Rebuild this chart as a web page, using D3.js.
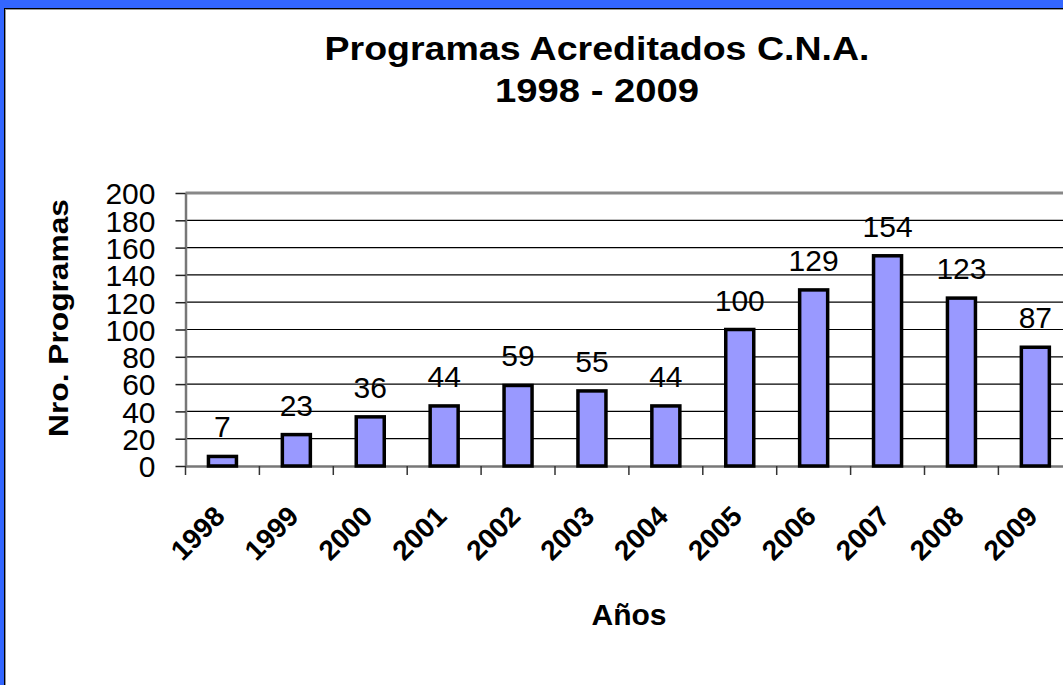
<!DOCTYPE html>
<html><head><meta charset="utf-8">
<script src="https://cdn.jsdelivr.net/npm/d3@7/dist/d3.min.js"></script>
<style>html,body{margin:0;padding:0;background:#fff;overflow:hidden}svg{display:block}</style>
</head><body>
<script>
const years = ["1998","1999","2000","2001","2002","2003","2004","2005","2006","2007","2008","2009"];
const values = [7,23,36,44,59,55,44,100,129,154,123,87];
const yTicks = [0,20,40,60,80,100,120,140,160,180,200];
const titleLines = ["Programas Acreditados C.N.A.","1998 - 2009"];
const yTitle = "Nro. Programas";
const xTitle = "Años";

const W=1063,H=685;
const font='"Liberation Sans", Arial, sans-serif';
const svg=d3.select("body").append("svg").attr("width",W).attr("height",H);

// frame
svg.append("rect").attr("x",0).attr("y",0).attr("width",W).attr("height",H).attr("fill","#3366ff");
svg.append("rect").attr("x",4).attr("y",8).attr("width",W).attr("height",H).attr("fill","#000");
svg.append("rect").attr("x",5).attr("y",9).attr("width",W).attr("height",H).attr("fill","#999");
svg.append("rect").attr("x",6).attr("y",10).attr("width",W).attr("height",H).attr("fill","#fff");

const pLeft=185.5, pRight=185.5+12*73.9, pTop=193, pBottom=466;
const x=d3.scaleBand().domain(years).range([pLeft,pRight]).paddingInner(0).paddingOuter(0);
const y=d3.scaleLinear().domain([0,200]).range([pBottom,pTop]);

// gridlines
svg.append("g").selectAll("line").data(yTicks.filter(t=>t>0&&t<200)).join("line")
  .attr("x1",pLeft).attr("x2",pRight).attr("y1",d=>y(d)).attr("y2",d=>y(d))
  .attr("stroke","#000").attr("stroke-width",1.2);
svg.append("line").attr("x1",pLeft).attr("x2",pRight).attr("y1",y(200)).attr("y2",y(200))
  .attr("stroke","#888").attr("stroke-width",3);

// y axis
const yAxis=svg.append("g").attr("transform",`translate(${pLeft},0)`)
  .call(d3.axisLeft(y).tickValues(yTicks).tickSize(10).tickPadding(20).tickSizeOuter(0));
yAxis.select(".domain").attr("stroke","#777").attr("stroke-width",2.5);
yAxis.selectAll(".tick line").attr("stroke","#222").attr("stroke-width",1.5);
yAxis.selectAll(".tick text").attr("font-family",font).attr("font-size",30).attr("fill","#000").attr("dy","0.36em");

// x axis
const xAxis=svg.append("g").attr("transform",`translate(0,${pBottom})`)
  .call(d3.axisBottom(x).tickSize(0).tickFormat(""));
xAxis.select(".domain").attr("stroke","#777").attr("stroke-width",2.5);
const bounds=years.map(d=>x(d)).concat([pRight]);
svg.append("g").selectAll("line").data(bounds).join("line")
  .attr("x1",d=>d).attr("x2",d=>d).attr("y1",pBottom).attr("y2",pBottom+9)
  .attr("stroke","#333").attr("stroke-width",1.5);
svg.append("g").selectAll("text").data(years).join("text")
  .attr("transform",d=>`translate(${x(d)+x.bandwidth()/2+4},518) rotate(-45)`)
  .attr("text-anchor","end").attr("font-family",font).attr("font-weight","bold")
  .attr("font-size",28).attr("fill","#000").text(d=>d);

// bars
const bw=28;
svg.append("g").selectAll("rect").data(values).join("rect")
  .attr("x",(d,i)=>x(years[i])+x.bandwidth()/2-bw/2)
  .attr("y",d=>y(d)).attr("width",bw).attr("height",d=>pBottom-y(d))
  .attr("fill","#9999ff").attr("stroke","#000").attr("stroke-width",3.5);

// data labels
svg.append("g").selectAll("text").data(values).join("text")
  .attr("x",(d,i)=>x(years[i])+x.bandwidth()/2)
  .attr("y",d=>y(d)-19).attr("text-anchor","middle")
  .attr("font-family",font).attr("font-size",30).attr("fill","#000").text(d=>d);

// titles
svg.append("text").attr("x",597).attr("y",60).attr("text-anchor","middle")
  .attr("font-family",font).attr("font-weight","bold").attr("font-size",33)
  .attr("textLength",545).attr("lengthAdjust","spacingAndGlyphs").text(titleLines[0]);
svg.append("text").attr("x",597).attr("y",102).attr("text-anchor","middle")
  .attr("font-family",font).attr("font-weight","bold").attr("font-size",33)
  .attr("textLength",204).attr("lengthAdjust","spacingAndGlyphs").text(titleLines[1]);
svg.append("text").attr("transform","translate(68,318) rotate(-90)").attr("text-anchor","middle")
  .attr("font-family",font).attr("font-weight","bold").attr("font-size",28)
  .attr("textLength",238).attr("lengthAdjust","spacingAndGlyphs").text(yTitle);
svg.append("text").attr("x",629).attr("y",625).attr("text-anchor","middle")
  .attr("font-family",font).attr("font-weight","bold").attr("font-size",30).text(xTitle);
</script>
</body></html>
